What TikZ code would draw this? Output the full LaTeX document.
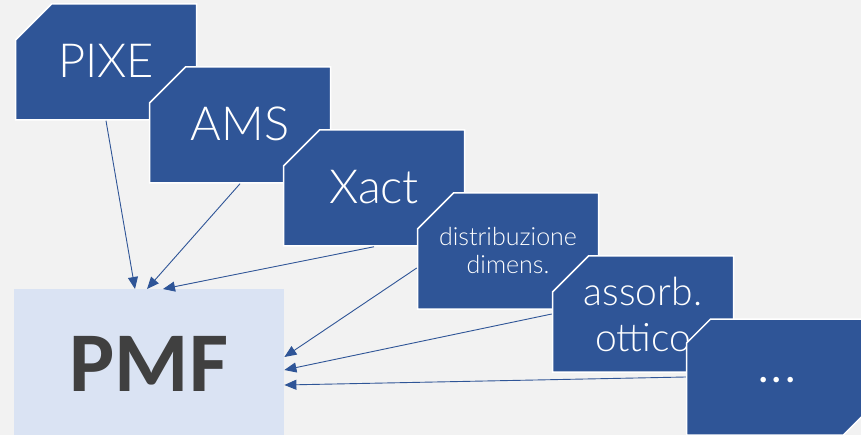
\documentclass[tikz,border=0pt]{standalone}
\usepackage{fontspec}
\setmainfont{Lato Light}
\newfontfamily\regfont{Lato}
\newfontfamily\pmffont{Carlito}
\usetikzlibrary{shapes.misc,arrows.meta,calc}
\definecolor{bg}{HTML}{F2F2F2}
\definecolor{boxblue}{HTML}{2F5597}
\definecolor{pmfblue}{HTML}{DAE3F3}
\definecolor{pmftext}{HTML}{404040}
\tikzset{
  snipbox/.style={chamfered rectangle, chamfered rectangle corners={north west,south east},
    chamfered rectangle xsep=18pt, chamfered rectangle ysep=18pt,
    minimum width=181pt, minimum height=116pt, inner sep=0pt,
    fill=boxblue, draw=white, line width=1.5pt, text=white, align=center},
  bigtxt/.style={font=\fontsize{47}{52}\selectfont},
  midtxt/.style={font=\fontsize{39}{46}\selectfont},
  smalltxt/.style={font=\fontsize{25}{28}\selectfont},
  conn/.style={draw=boxblue, line width=0.9pt, -{Triangle[length=12pt,width=10pt]}}
}
\begin{document}
\begin{tikzpicture}[x=1pt,y=-1pt]
\useasboundingbox (0,0) rectangle (861,435);
\fill[bg] (0,0) rectangle (861,435);
\clip (0,0) rectangle (861,435);
\node[fill=pmfblue, minimum width=270pt, minimum height=160pt, inner sep=0pt, anchor=north west] (pmf) at (14,289) {};
\node[text=pmftext, font=\pmffont\bfseries\fontsize{85}{90}\selectfont, inner sep=0pt] (pmflabel) at (149,364) {PMF};
\node[snipbox, bigtxt] (pixe) at (106,62) {\raisebox{3pt}{PIXE}};
\node[snipbox, bigtxt] (ams) at (240,125) {\raisebox{3pt}{AMS}};
\node[snipbox, bigtxt] (xact) at (374,188) {\raisebox{3pt}{Xact}};
\node[snipbox, smalltxt] (distr) at (508,251) {distribuzione\\dimens.};
\node[snipbox, midtxt] (assorb) at (643,314) {assorb.\\ottico};
\node[snipbox, font=\regfont\fontsize{44}{48}\selectfont] (dots) at (777,377) {\raisebox{-12pt}{.\kern3pt.\kern3pt.}};
\draw[conn] (pixe.south) -- ([xshift=121pt]pmf.north west);
\draw[conn] (ams.south) -- ([xshift=133pt]pmf.north west);
\draw[conn] (xact.south) -- ([xshift=149pt]pmf.north west);
\draw[conn] ([yshift=-17pt]distr.west) -- ([yshift=-68pt]pmf.north east);
\draw[conn] (assorb.west) -- ([yshift=-81pt]pmf.north east);
\draw[conn] (dots.west) -- ([yshift=-96pt]pmf.north east);
\end{tikzpicture}
\end{document}
